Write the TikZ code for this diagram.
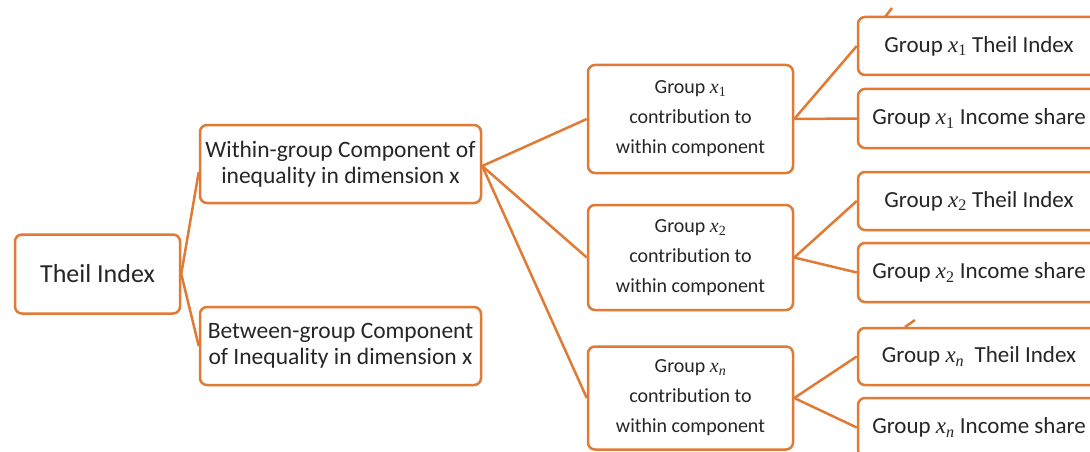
\documentclass[tikz,border=0pt]{standalone}
\usepackage{fontspec}
\setmainfont{Carlito}[Ligatures={NoCommon}]
\newfontfamily\mathxfont{Liberation Serif}
\definecolor{edge}{HTML}{E07A34}
\newcommand{\gx}[1]{{\mathxfont\itshape x}\textsubscript{\mathxfont #1}}
\begin{document}
\begin{tikzpicture}[x=1pt,y=-1pt,
  box/.style={draw=edge,line width=2.5pt,rounded corners=7pt,fill=white,inner sep=0pt,align=center,text=black!85},
  link/.style={draw=edge,line width=2.5pt},
  big/.style={box,font=\fontsize{26}{30}\selectfont},
  mid/.style={box,font=\fontsize{23.5}{26}\selectfont},
  small/.style={box,font=\fontsize{20}{30}\selectfont},
  leaf/.style={box,font=\fontsize{23}{26}\selectfont,minimum width=242pt}]
\useasboundingbox (0,0) rectangle (1090,452);
\clip (0,0) rectangle (1090,452);
\fill[white] (0,0) rectangle (1090,452);
% nodes
\node[big,minimum width=165pt,minimum height=79pt] (theil) at (97.5,274) {Theil Index};
\node[mid,minimum width=281pt,minimum height=78pt] (within) at (340.5,164) {Within-group Component of\\inequality in dimension x};
\node[mid,minimum width=281pt,minimum height=78pt] (between) at (340.5,346) {Between-group Component\\of Inequality in dimension x};
\node[small,minimum width=205pt,minimum height=108pt] (c1) at (690.5,119) {Group \gx{1}\\contribution to\\within component};
\node[small,minimum width=205pt,minimum height=105pt] (c2) at (690.5,257.5) {Group \gx{2}\\contribution to\\within component};
\node[small,minimum width=205pt,minimum height=103pt] (cn) at (690.5,398) {Group \gx{\itshape n}\\contribution to\\within component};
\node[leaf,minimum height=58pt] (t1) at (979,46) {Group \gx{1} Theil Index};
\node[leaf,minimum height=59pt] (i1) at (979,118.5) {Group \gx{1} Income share};
\node[leaf,minimum height=58pt] (t2) at (979,201) {Group \gx{2} Theil Index};
\node[leaf,minimum height=59pt] (i2) at (979,272.5) {Group \gx{2} Income share};
\node[leaf,minimum height=57pt] (tn) at (979,356.5) {Group \gx{\itshape n}\ \ Theil Index};
\node[leaf,minimum height=59pt] (in) at (979,427.5) {Group \gx{\itshape n} Income share};
% connectors
\draw[link] (theil.east) -- ([yshift=-8pt]within.west);
\draw[link] (theil.east) -- (between.west);
\draw[link] ([yshift=-2pt]within.east) -- (c1.west);
\draw[link] ([yshift=-2pt]within.east) -- (c2.west);
\draw[link] ([yshift=-2pt]within.east) -- (cn.west);
\draw[link] (c1.east) -- (t1.west);
\draw[link] (c1.east) -- (i1.west);
\draw[link] (c2.east) -- (t2.west);
\draw[link] (c2.east) -- (i2.west);
\draw[link] (cn.east) -- (tn.west);
\draw[link] (cn.east) -- (in.west);
\coordinate (s1a) at (885,17);
\coordinate (s1b) at (892,8);
\coordinate (s2a) at (905,327);
\coordinate (s2b) at (915,320);
\draw[link] (s1a) -- (s1b);
\draw[link] (s2a) -- (s2b);
\end{tikzpicture}
\end{document}
